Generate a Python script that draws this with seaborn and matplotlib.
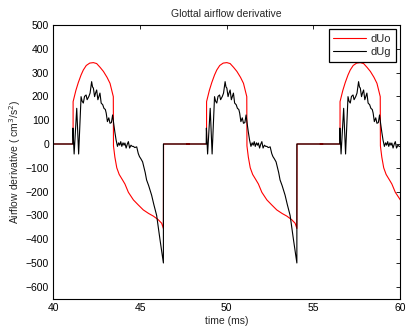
import numpy as np
import pandas as pd
import matplotlib
matplotlib.use("Agg")
import matplotlib.pyplot as plt
import seaborn as sns

# One glottal cycle (first pulse), times in ms
PERIOD = 7.7
N_CYCLES = 3
uo_t = [40.0, 41.14, 41.141, 41.3, 41.44, 41.6, 41.73, 41.9, 42.1, 42.31, 42.5, 42.7,
        42.89, 43.1, 43.27, 43.46, 43.47, 43.55, 43.66, 43.8, 44.0, 44.13, 44.33, 44.62,
        44.9, 45.19, 45.5, 45.77, 46.05, 46.25, 46.35, 46.36, 47.84]
uo_v = [0, 0, 178, 225, 258, 290, 311, 330, 340, 342, 338, 322,
        305, 280, 255, 199, -8, -55, -100, -128, -152, -168, -203, -235,
        -256, -277, -292, -303, -318, -333, -355, 0, 0]

ug_t = [40.0, 41.12, 41.13, 41.2, 41.35, 41.46, 41.6, 41.66, 41.73, 41.8, 41.89, 41.95,
        42.05, 42.12, 42.21, 42.26, 42.31, 42.38, 42.44, 42.5, 42.57, 42.63, 42.69, 42.76,
        42.85, 42.92, 43.0, 43.05, 43.12, 43.2, 43.27, 43.35, 43.42, 43.48, 43.55, 43.62,
        43.7, 43.77, 43.83, 43.89, 43.95, 44.02, 44.08, 44.13, 44.2, 44.27, 44.33, 44.4,
        44.48, 44.55, 44.62, 44.7, 44.81, 44.9, 44.97, 45.05, 45.15, 45.23, 45.3, 45.38,
        45.5, 45.67, 45.8, 45.96, 46.15, 46.35, 46.351, 47.84]
ug_v = [0, 0, 67, -42, 150, -42, 199, 180, 172, 200, 206, 186,
        200, 214, 262, 240, 235, 199, 215, 227, 186, 200, 214, 172,
        165, 150, 145, 130, 94, 110, 87, 90, 122, 87, 50, 17,
        -10, 5, -5, 10, -10, 5, -5, 4, -17, 0, 10, -17,
        -5, -10, -10, -15, -12, -40, -53, -62, -75, -100, -120, -151,
        -175, -215, -255, -300, -400, -500, 0, 0]

x_ticks = [40, 45, 50, 55, 60]
y_ticks = list(range(-600, 501, 100))

rows = []
for k in range(N_CYCLES):
    off = PERIOD * k
    for t, v in zip(uo_t, uo_v):
        rows.append(("dUo", t + off, v))
    for t, v in zip(ug_t, ug_v):
        rows.append(("dUg", t + off, v))
df = pd.DataFrame(rows, columns=["signal", "time", "value"])

sns.set_style("white")
plt.rcParams['font.family'] = ['Liberation Sans', 'DejaVu Sans']

fig = plt.figure(figsize=(4.09, 3.30), dpi=100)
ax = fig.add_axes([0.1304, 0.0949, 0.8476, 0.8293])

sns.lineplot(data=df[df.signal == "dUo"], x="time", y="value", color="#ff0000",
             estimator=None, sort=False, linewidth=0.8, ax=ax, label="dUo")
sns.lineplot(data=df[df.signal == "dUg"], x="time", y="value", color="black",
             estimator=None, sort=False, linewidth=0.8, ax=ax, label="dUg")

ax.set_xlim(40, 60)
ax.set_ylim(-650, 500)
ax.set_xticks(x_ticks)
ax.set_yticks(y_ticks)
ax.set_yticklabels([str(v).replace("-", "\u2212") for v in y_ticks])
ax.tick_params(direction="in", top=True, right=True, length=3, width=0.6,
               labelsize=7.5, colors="black", pad=3)
for s in ax.spines.values():
    s.set_color("black")
    s.set_linewidth(0.8)
ax.set_xlabel("time (ms)", fontsize=7.5, labelpad=2)
ax.set_ylabel("Airflow derivative ( cm$^3$/s$^2$)", fontsize=7.5, labelpad=2)
ax.set_title("Glottal airflow derivative", fontsize=7.5, pad=6)
leg = ax.legend(loc="upper right", fontsize=8, frameon=True, fancybox=False,
                edgecolor="black", framealpha=1, borderpad=0.4, handlelength=2.9,
                handletextpad=0.45, labelspacing=0.3, borderaxespad=0.4)
leg.get_frame().set_linewidth(0.9)
fig.savefig("out.png", dpi=100)
